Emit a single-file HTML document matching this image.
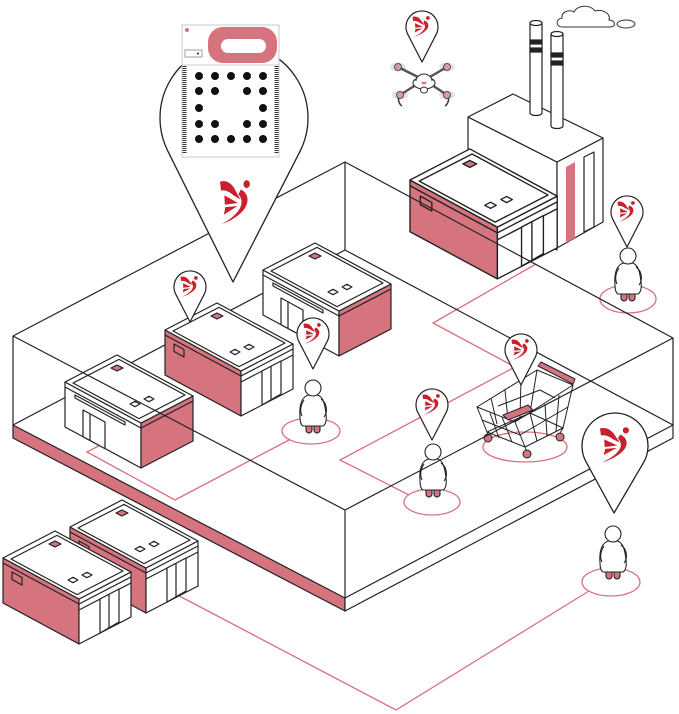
<!DOCTYPE html>
<html><head><meta charset="utf-8">
<style>html,body{margin:0;padding:0;background:#fff;width:679px;height:714px;overflow:hidden}svg{display:block}</style>
</head><body>
<svg xmlns="http://www.w3.org/2000/svg" width="679" height="714" viewBox="0 0 679 714">
<defs>
<g id="logo" fill="#c8202c" stroke="none">
 <circle cx="27.5" cy="3.5" r="3.3"/>
 <path d="M0,1.5 C6,0 10,2 14,6 L21,16.5 L14,13 C10,10 5,8 1,9 Z"/>
 <path d="M4.5,13 L18.5,19.5 L5,21 Z"/>
 <path d="M5.5,23 L18,22 L4,29.5 Z"/>
 <path d="M21.5,8 C32,12 34,27 2,37.5 C22,28 26,19 19,12 Z"/>
</g>
<g id="pin">
 <path d="M0,35 L-14.2,7.3 A16,16 0 1 1 14.2,7.3 Z" fill="#fff" stroke="#222" stroke-width="1.2" stroke-linejoin="round"/>
 <use href="#logo" transform="translate(-9.5,-11) scale(0.56)"/>
</g>
<g id="person" stroke="#222" stroke-width="1.1">
 <path d="M-7,35 h6 v7 a3,3 0 0 1 -6,0 Z" fill="#d5737f"/>
 <path d="M1,35 h6 v7 a3,3 0 0 1 -6,0 Z" fill="#d5737f"/>
 <path d="M-4,7 C-11,8 -14,17 -13,29 C-13,34 -12,37 -10,38 L10,38 C12,37 14,33 13,26 C12,16 10,8 4,7 Z" fill="#fff"/>
 <path d="M8,11 C14,15 15,24 11,29" fill="none"/>
 <path d="M-9,12 C-13,18 -13,24 -11,28" fill="none"/>
 <circle cx="0" cy="0" r="8" fill="#fff"/>
</g>
<g id="bA" stroke="#222" stroke-width="1.2" stroke-linejoin="round">
 <polygon points="0,0 76,41 76,86 0,45" fill="#d5737f"/>
 <polygon points="76,41 128,14 128,59 76,86" fill="#fff"/>
 <polygon points="0,0 52,-27 128,14 76,41" fill="#fff"/>
 <polyline points="0,5 76,46 128,19" fill="none"/>
 <polygon points="8,1 54,-22.6 120,13 74,36.6" fill="none"/>
 <polyline points="76,52 128,25" fill="none"/>
 <polygon points="46,-14 52,-17 58,-14 52,-11" fill="#d5737f"/>
 <polygon points="65,22 70,19.3 75,22 70,24.7" fill="none"/>
 <polygon points="79,17 84,14.3 89,17 84,19.7" fill="none"/>
 <polygon points="9,14 19,19.5 19,27 9,21.5" fill="none"/>
 <polygon points="97,41 116,31 116,64 97,75" fill="#fff"/>
 <line x1="106" y1="36.5" x2="106" y2="70"/>
</g>
<g id="bB" stroke="#222" stroke-width="1.2" stroke-linejoin="round">
 <polygon points="0,0 76,41 76,86 0,45" fill="#fff"/>
 <polygon points="76,41 128,14 128,59 76,86" fill="#d5737f"/>
 <polygon points="0,0 52,-27 128,14 76,41" fill="#fff"/>
 <polyline points="0,5 76,46 128,19" fill="none"/>
 <polygon points="8,1 54,-22.6 120,13 74,36.6" fill="none"/>
 <polygon points="10,13 60,40 60,43 10,16" fill="#fff"/>
 <polygon points="46,-14 52,-17 58,-14 52,-11" fill="#d5737f"/>
 <polygon points="65,22 70,19.3 75,22 70,24.7" fill="none"/>
 <polygon points="79,17 84,14.3 89,17 84,19.7" fill="none"/>
 <polygon points="18,28 40,40 40,66.6 18,54.7" fill="#fff"/>
 <line x1="25" y1="31.8" x2="25" y2="58.5"/>
</g>
</defs>

<!-- cloud -->
<g fill="#fff" stroke="#333" stroke-width="1">
 <path d="M562,27 C556,27 555,19 562,18 C561,12 569,9 574,12 C577,5 590,4 595,11 C602,9 611,13 609,20 C615,20 617,27 610,27 Z"/>
 <ellipse cx="626" cy="24" rx="9" ry="4"/>
</g>

<!-- factory tall block -->
<g stroke="#222" stroke-width="1.2" fill="#fff" stroke-linejoin="round">
 <polygon points="468,117 557,162 557,250 468,205"/>
 <polygon points="557,162 603,138 603,222 557,248"/>
 <polygon points="468,117 513,94 603,138 557,162"/>
 <polygon points="566,167 575,162 575,238 566,243" fill="#d5737f" stroke="none"/>
 <polygon points="584,157 594,152 594,227 584,232" fill="none"/>
</g>
<!-- chimneys -->
<g stroke="#222" stroke-width="1.2" fill="#fff">
 <path d="M530,23 V113 A6,2.5 0 0 0 542,113 V23"/>
 <ellipse cx="536" cy="23" rx="6" ry="2.5"/>
 <rect x="530" y="40" width="12" height="4" fill="#222"/>
 <rect x="530" y="48" width="12" height="4" fill="#222"/>
 <path d="M551,34 V126 A6,2.5 0 0 0 563,126 V34"/>
 <ellipse cx="557" cy="34" rx="6" ry="2.5"/>
 <rect x="551" y="53" width="12" height="4" fill="#222"/>
 <rect x="551" y="61" width="12" height="4" fill="#222"/>
</g>
<!-- factory lower building -->
<use href="#bA" transform="translate(410,180) scale(1.15)"/>

<!-- drone -->
<g transform="translate(424,80)">
 <g fill="#e2e2e2"><ellipse cx="-26" cy="-13" rx="8" ry="4.5"/><ellipse cx="23" cy="-13" rx="8" ry="4.5"/><ellipse cx="-24" cy="15" rx="8" ry="4.5"/><ellipse cx="23" cy="15" rx="8" ry="4.5"/></g>
 <path d="M-4,-2 L-26,-13 M4,-2 L23,-13 M-5,3 L-24,15 M5,3 L23,15" stroke="#555" stroke-width="2.4" fill="none"/>
 <path d="M-24,15 C-27,19 -25,24 -22,26 M23,15 C26,19 24,24 21,26" stroke="#333" stroke-width="1.5" fill="none"/>
 <g fill="#d89aa3" stroke="#333" stroke-width="0.8"><circle cx="-26" cy="-13" r="3.5"/><circle cx="23" cy="-13" r="3.5"/><circle cx="-24" cy="15" r="3.5"/><circle cx="23" cy="15" r="3.5"/></g>
 <ellipse cx="0" cy="3" rx="11" ry="6" fill="#fff" stroke="#333" stroke-width="1.1"/>
 <path d="M-8,1 A8,7 0 0 1 8,1" fill="#fff" stroke="#333" stroke-width="1.1"/>
 <ellipse cx="0" cy="10" rx="3.5" ry="3" fill="#fff" stroke="#333" stroke-width="1"/>
 <ellipse cx="0" cy="3" rx="2.5" ry="1.3" fill="#d5737f"/>
</g>

<!-- red line from factory -->
<g fill="none" stroke="#d9707c" stroke-width="1.3">
 <polyline points="536,264 433,323 515,367 340,460 409,495"/>
 <ellipse cx="628" cy="299" rx="28" ry="14"/>
</g>
<use href="#person" x="628" y="256"/>

<!-- platform back lines -->
<g stroke="#222" stroke-width="1.2" fill="none">
 <line x1="345" y1="162" x2="345" y2="250"/>
 <polyline points="13,425 345,250 673,425"/>
 <polyline points="13,336 345,162 673,338"/>
</g>

<!-- inside red lines and ellipses -->
<g fill="none" stroke="#d9707c" stroke-width="1.3">
 <polyline points="110,440 87,452 175,500 289,440"/>
 <ellipse cx="311" cy="431" rx="29" ry="13"/>
 <ellipse cx="432" cy="502" rx="28" ry="13"/>
 <ellipse cx="525" cy="447" rx="42" ry="15"/>
</g>

<!-- inside buildings -->
<use href="#bB" transform="translate(263,270)"/>
<use href="#bA" transform="translate(165,330)"/>
<use href="#bB" transform="translate(65,382)"/>

<!-- people inside -->
<use href="#person" x="313" y="388"/>
<use href="#person" x="433" y="452"/>

<!-- cart -->
<g stroke="#222" stroke-width="1" fill="none" stroke-linejoin="round">
 <polygon points="477,407 537,370 573,385 515,422" fill="rgba(255,255,255,0.6)"/>
 <polygon points="487,432 530,413 563,428 525,447"/>
 <line x1="477" y1="407" x2="487" y2="432"/>
 <line x1="515" y1="422" x2="525" y2="447"/>
 <line x1="573" y1="385" x2="563" y2="428"/>
 <line x1="537" y1="370" x2="530" y2="413"/>
 <line x1="490" y1="413" x2="499" y2="438"/>
 <line x1="502" y1="417" x2="512" y2="442"/>
 <line x1="530" y1="413" x2="537" y2="441"/>
 <line x1="545" y1="404" x2="547" y2="436"/>
 <line x1="559" y1="395" x2="556" y2="431"/>
 <line x1="491" y1="398" x2="497" y2="424"/>
 <line x1="505" y1="390" x2="508" y2="420"/>
 <line x1="521" y1="380" x2="520" y2="417"/>
 <polyline points="482,420 520,435 568,407"/>
 <polyline points="498,406 540,390 555,398"/>
 <polygon points="503,415 528,405 533,410 508,420" fill="#d5737f"/>
 <polygon points="538,366 541,362 575,379 573,384" fill="#d5737f"/>
 <line x1="487" y1="432" x2="488" y2="437"/>
 <line x1="525" y1="447" x2="527" y2="452"/>
 <line x1="563" y1="428" x2="560" y2="433"/>
 <g fill="#d5737f"><circle cx="488" cy="438" r="4"/><circle cx="527" cy="454" r="4"/><circle cx="560" cy="437" r="4"/></g>
</g>

<!-- platform front lines and slab -->
<g stroke="#222" stroke-width="1.2" stroke-linejoin="round">
 <polygon points="13,425 345,598 345,611 13,438" fill="#d5737f"/>
 <polygon points="345,598 673,425 673,438 345,611" fill="#fff"/>
 <polyline points="13,336 345,510 673,338" fill="none"/>
 <line x1="13" y1="336" x2="13" y2="425"/>
 <line x1="345" y1="510" x2="345" y2="598"/>
 <line x1="673" y1="338" x2="673" y2="425"/>
</g>

<!-- outside front -->
<g fill="none" stroke="#d9707c" stroke-width="1.3">
 <polyline points="168,590 396,710 589,591"/>
 <ellipse cx="611" cy="582" rx="29" ry="14"/>
</g>
<use href="#person" x="613" y="534"/>
<use href="#bA" transform="translate(70,527)"/>
<use href="#bA" transform="translate(3,558)"/>

<!-- small pins -->
<use href="#pin" x="422" y="27"/>
<use href="#pin" x="190" y="287"/>
<use href="#pin" x="313" y="334"/>
<use href="#pin" x="432" y="405"/>
<use href="#pin" x="627" y="212"/>
<use href="#pin" x="521" y="350"/>

<!-- big pin bottom right -->
<path d="M614,513 L586.3,462.3 A33,33 0 1 1 643.7,462.3 Z" fill="#fff" stroke="#222" stroke-width="1.3" stroke-linejoin="round"/>
<use href="#logo" transform="translate(600,427) scale(0.94,0.95)"/>

<!-- big pin top left -->
<path d="M233,282 L168,151.4 A74,74 0 1 1 300,151.4 Z" fill="#fff" stroke="#222" stroke-width="1.3" stroke-linejoin="round"/>
<use href="#logo" transform="translate(220,180) scale(0.97,1.18)"/>

<!-- chip -->
<g>
 <rect x="182" y="25" width="97" height="132" fill="#fff" stroke="#c8c8c8"/>
 <rect x="208" y="27" width="69" height="36" rx="15" fill="#d5737f"/>
 <rect x="221" y="39" width="45" height="14" rx="7" fill="#fff"/>
 <circle cx="187" cy="30" r="2" fill="#d5737f"/>
 <rect x="185" y="50" width="17" height="7" fill="#fff" stroke="#888" stroke-width="0.8"/>
 <circle cx="198" cy="53.5" r="1" fill="#222"/>
 <line x1="182" y1="65" x2="279" y2="65" stroke="#ccc"/>
 <line x1="184.5" y1="66" x2="184.5" y2="153" stroke="#333" stroke-width="4" stroke-dasharray="1 1"/>
 <line x1="276.5" y1="66" x2="276.5" y2="153" stroke="#333" stroke-width="4" stroke-dasharray="1 1"/>
 <g fill="#111">
  <circle cx="199" cy="76" r="4"/><circle cx="215" cy="76" r="4"/><circle cx="231" cy="76" r="4"/><circle cx="247" cy="76" r="4"/><circle cx="263" cy="76" r="4"/>
  <circle cx="199" cy="91" r="4"/><circle cx="215" cy="91" r="4"/><circle cx="247" cy="91" r="4"/><circle cx="263" cy="91" r="4"/>
  <circle cx="199" cy="108" r="4"/><circle cx="263" cy="108" r="4"/>
  <circle cx="199" cy="124" r="4"/><circle cx="215" cy="124" r="4"/><circle cx="247" cy="124" r="4"/><circle cx="263" cy="124" r="4"/>
  <circle cx="199" cy="139" r="4"/><circle cx="215" cy="139" r="4"/><circle cx="231" cy="139" r="4"/><circle cx="247" cy="139" r="4"/><circle cx="263" cy="139" r="4"/>
 </g>
</g>
</svg>
</body></html>
